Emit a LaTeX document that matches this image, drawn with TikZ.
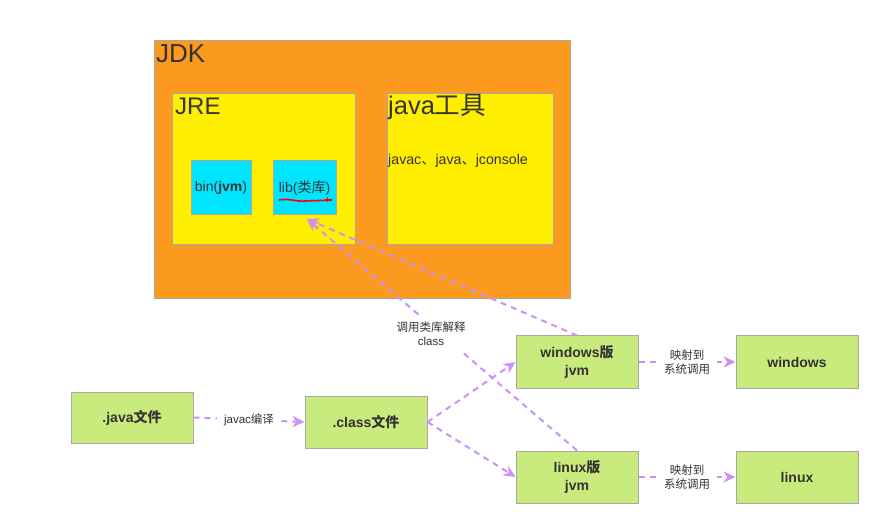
\documentclass[tikz,border=0pt]{standalone}
\usepackage{fontspec}
\setmainfont{Liberation Sans}
\newfontfamily\cjk{Noto Sans CJK SC}
\newcommand\zh[1]{{\cjk #1}}
\usetikzlibrary{arrows.meta}
\definecolor{jdkorange}{HTML}{FB9A1E}
\definecolor{jreyellow}{HTML}{FFEE00}
\definecolor{libcyan}{HTML}{00E5FF}
\definecolor{flowgreen}{HTML}{C9EA7C}
\definecolor{edgegray}{HTML}{A8A8A8}
\definecolor{arrowpurple}{HTML}{CC90F7}
\definecolor{textdark}{HTML}{333333}
\begin{document}
\begin{tikzpicture}[x=1pt,y=-1pt,
  boxstyle/.style={draw=edgegray, line width=1pt, inner sep=0pt, text=textdark},
  flowbox/.style={boxstyle, fill=flowgreen, minimum width=122pt, minimum height=52pt, font=\fontsize{14}{18}\selectfont\bfseries, align=center},
  flowarrow/.style={draw=arrowpurple, line width=2pt, dash pattern=on 6pt off 5pt, -{Stealth[length=12pt,width=11pt]}},
  flowlabel/.style={fill=white, inner xsep=7pt, inner ysep=3pt, font=\fontsize{11.5}{14}\selectfont, text=textdark, align=center}]
\useasboundingbox (0,0) rectangle (889,529);
\fill[white] (0,0) rectangle (889,529);
% JDK
\node[boxstyle, fill=jdkorange, minimum width=416pt, minimum height=258pt] (jdk) at (362,170) {};
\node[anchor=north west, inner sep=0pt, font=\fontsize{26}{28}\selectfont, text=textdark] (jdklabel) at (156,44) {JDK};
% JRE
\node[boxstyle, fill=jreyellow, minimum width=183pt, minimum height=151pt] (jre) at (263.5,169.5) {};
\node[anchor=north west, inner sep=0pt, font=\fontsize{24}{26}\selectfont, text=textdark] (jrelabel) at (175,98) {JRE};
% tools
\node[boxstyle, fill=jreyellow, minimum width=166pt, minimum height=151pt] (tools) at (470,169.5) {};
\node[anchor=north west, inner sep=0pt, font=\fontsize{25.5}{27}\selectfont, text=textdark] (toolslabel) at (388,94) {java\zh{工具}};
\node[anchor=west, inner sep=0pt, font=\fontsize{14.2}{16}\selectfont, text=textdark] (toolslist) at (388,161) {javac\zh{、}java\zh{、}jconsole};
% bin, lib
\node[boxstyle, fill=libcyan, minimum width=60pt, minimum height=54pt, font=\fontsize{14}{16}\selectfont] (bin) at (221,188) {bin(\textbf{jvm})};
\node[boxstyle, fill=libcyan, minimum width=63pt, minimum height=54pt, font=\fontsize{14}{16}\selectfont] (lib) at (304.5,188) {lib(\zh{类库})};
\draw[red, line width=1.6pt] (279,200) .. controls (290,198) and (296,202) .. (305,201) -- (332,200);
\draw[red, line width=0.9pt] (327,197) -- (327,202) (325,199.5) -- (331,199.5);
% flow boxes
\node[flowbox, minimum height=51pt] (java) at (132,417.5) {.java\zh{文件}};
\node[flowbox] (class) at (366,422) {.class\zh{文件}};
\node[flowbox] (winjvm) at (577,362) {windows\zh{版}\\jvm};
\node[flowbox] (linjvm) at (577,477) {linux\zh{版}\\jvm};
\node[flowbox] (win) at (797,362) {windows};
\node[flowbox] (lin) at (797,477) {linux};
% arrows
\coordinate (libtip) at (307,219);
\draw[flowarrow] (winjvm.north) -- (libtip);
\draw[flowarrow] (linjvm.north) -- (libtip);
\node[flowlabel, inner ysep=6pt] (calllabel) at (431,334) {\zh{调用类库解释}\\class};
\draw[flowarrow] (java.east) -- (class.west) node[flowlabel, pos=0.5] (javaclabel) {javac\zh{编译}};
\draw[flowarrow] (class.east) -- (winjvm.west);
\draw[flowarrow] (class.east) -- (linjvm.west);
\draw[flowarrow] (winjvm.east) -- (win.west) node[flowlabel, pos=0.5] (maplabel1) {\zh{映射到}\\\zh{系统调用}};
\draw[flowarrow] (linjvm.east) -- (lin.west) node[flowlabel, pos=0.5] (maplabel2) {\zh{映射到}\\\zh{系统调用}};
\end{tikzpicture}
\end{document}
